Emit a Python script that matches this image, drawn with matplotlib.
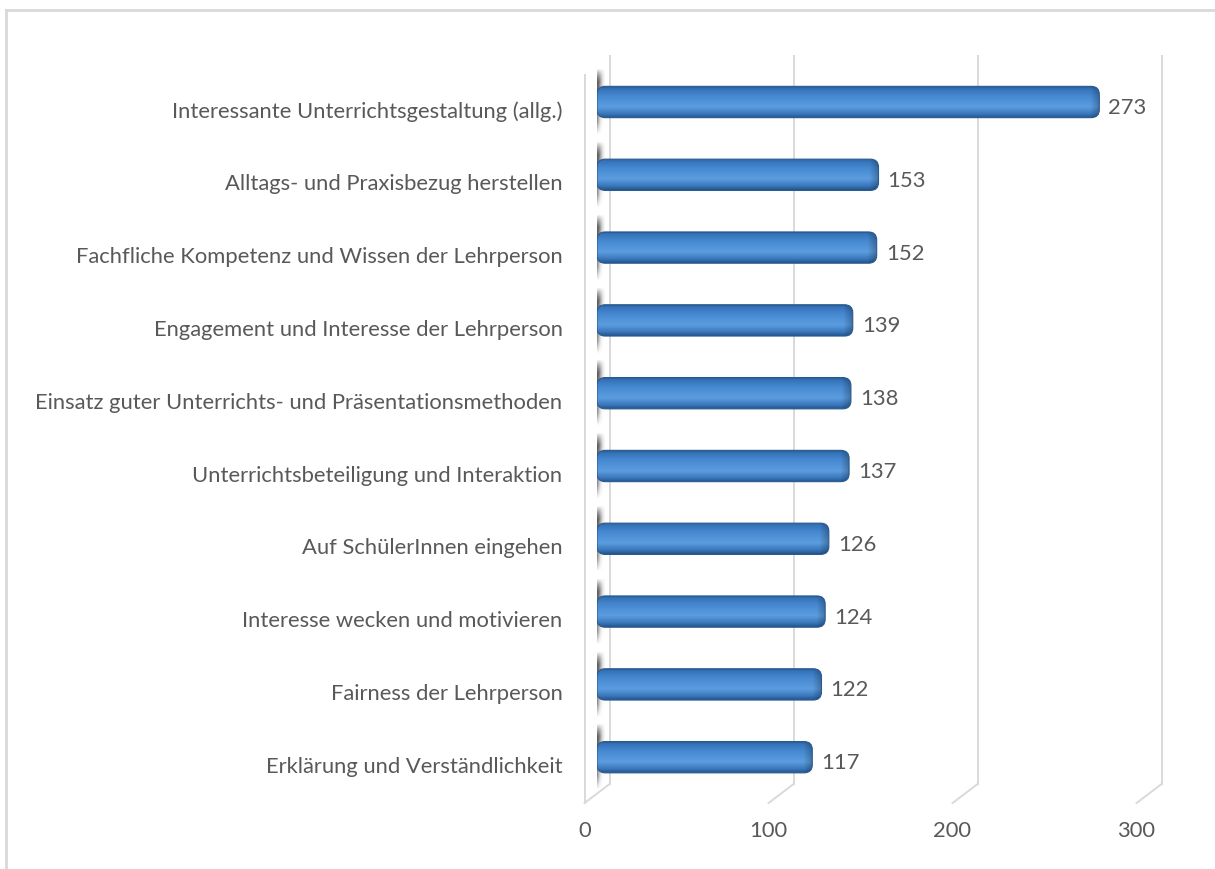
import numpy as np
import matplotlib.pyplot as plt
from matplotlib.patches import FancyBboxPatch
from matplotlib.lines import Line2D

labels = [
    "Interessante Unterrichtsgestaltung (allg.)",
    "Alltags- und Praxisbezug herstellen",
    "Fachfliche Kompetenz und Wissen der Lehrperson",
    "Engagement und Interesse der Lehrperson",
    "Einsatz guter Unterrichts- und Präsentationsmethoden",
    "Unterrichtsbeteiligung und Interaktion",
    "Auf SchülerInnen eingehen",
    "Interesse wecken und motivieren",
    "Fairness der Lehrperson",
    "Erklärung und Verständlichkeit",
]
values = [273, 153, 152, 139, 138, 137, 126, 124, 122, 117]
ticks = [0, 100, 200, 300]

W, H = 1215, 869
PX_X = 552 / 300      # pixels per value unit
PX_Y = 72.8           # pixels per category
DX = 12.5 / PX_X      # depth offset (back = +DX, front = -DX)
DY = 9.5 / PX_Y

text_col = "#595959"
grid_col = "#d9d9d9"
font = "Lato"
fs = 15.8

fig = plt.figure(figsize=(W / 100, H / 100), dpi=100)
ax = fig.add_axes([597 / W, 1 - 793.6 / H, 552 / W, 728 / H])
ax.axis("off")

# back wall gridlines, floor diagonals and front edge of the side wall
for t in ticks:
    ax.plot([t + DX, t + DX], [-0.5 - DY, 9.5 - DY], color=grid_col, lw=1.4, clip_on=False, zorder=1)
    ax.plot([t + DX, t - DX], [9.5 - DY, 9.5 + DY], color=grid_col, lw=1.4, clip_on=False, zorder=1)
ax.plot([-DX, -DX], [-0.5 + DY, 9.5 + DY], color=grid_col, lw=1.4, clip_on=False, zorder=1)

# vertical shading profile of the bars (top -> bottom)
prof_pos = [0.0, 0.08, 0.3, 0.65, 0.88, 1.0]
prof_col = np.array([
    [0x22, 0x55, 0x90],
    [0x35, 0x72, 0xb8],
    [0x46, 0x88, 0xd0],
    [0x5c, 0x9d, 0xe0],
    [0x3a, 0x77, 0xbb],
    [0x24, 0x56, 0x8e],
]) / 255.0

n = len(values)
bars = ax.barh(range(n), values, height=0.43, color="none", edgecolor="none")
for i, rect in enumerate(bars):
    x0, y0 = rect.get_x(), rect.get_y()
    w, h = rect.get_width(), rect.get_height()

    # blurred shadow where the bar meets the side wall
    sy = np.linspace(-1, 1, 60)[:, None]
    sx = np.linspace(-1, 1, 24)[None, :]
    # slight slant so the streak leans like the wall
    alpha = np.exp(-((sx + 0.25 * sy) / 0.5) ** 2) * np.clip(1.4 - 1.4 * np.abs(sy) ** 2.5, 0, 1)
    shadow = np.zeros((60, 24, 4))
    shadow[..., :3] = 0.2
    shadow[..., 3] = np.clip(alpha * 0.8, 0, 0.8)
    ax.imshow(shadow, extent=(-5.0, 4.0, y0 + h + 0.24, y0 - 0.24), aspect="auto", zorder=2,
              interpolation="bilinear")

    patch = FancyBboxPatch((x0, y0), w, h, boxstyle="round,pad=0,rounding_size=4.5",
                           mutation_aspect=0.11 / 4.5, facecolor="none",
                           edgecolor="#2a5a8f", lw=0.8, zorder=4)
    ax.add_patch(patch)

    ny, nx = 40, max(int(w * PX_X), 2)
    t = np.linspace(0, 1, ny)
    rgb = np.stack([np.interp(t, prof_pos, prof_col[:, k]) for k in range(3)], axis=1)
    img = np.repeat(rgb[:, None, :], nx, axis=1)
    xs = np.arange(nx)
    dark = 1 - 0.28 * np.clip((xs - (nx - 10)) / 10, 0, 1)
    img = img * dark[None, :, None]
    im = ax.imshow(img, extent=(x0, x0 + w, y0 + h, y0), aspect="auto", zorder=3,
                   interpolation="bilinear")
    im.set_clip_path(patch)

    ax.annotate(str(values[i]), (x0 + w, i), xytext=(6.5, -4.3), textcoords="offset points",
                ha="left", va="center", fontsize=fs, color=text_col, family=font,
                annotation_clip=False)
    ax.annotate(labels[i], (-DX, i + DY), xytext=(-15.8, 0), textcoords="offset points",
                ha="right", va="center", fontsize=fs, color=text_col, family=font,
                annotation_clip=False)

for t in ticks:
    ax.annotate(str(t), (t - DX, 9.5 + DY), xytext=(0, -20.2), textcoords="offset points",
                ha="center", va="center", fontsize=fs, color=text_col, family=font,
                annotation_clip=False)

ax.set_xlim(0, 300)
ax.set_ylim(9.5, -0.5)

# chart frame (only top and left edges are visible)
fig.add_artist(Line2D([6 / W, 6 / W], [0, 1 - 10 / H], color=grid_col, lw=2))
fig.add_artist(Line2D([6 / W, 1], [1 - 10 / H, 1 - 10 / H], color=grid_col, lw=2))

fig.savefig("out.png", dpi=100)
